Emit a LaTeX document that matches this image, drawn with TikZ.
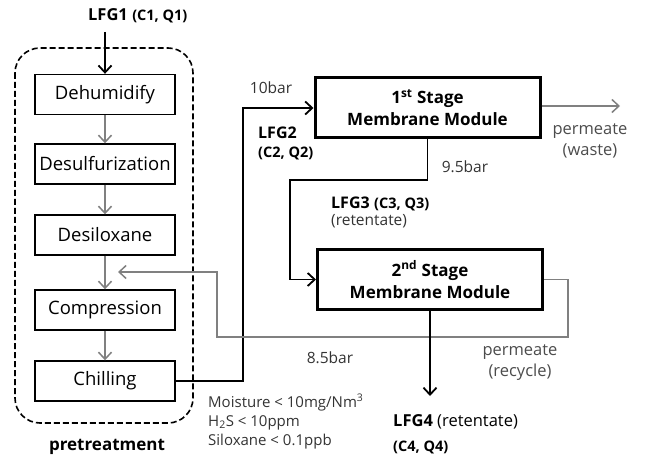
\documentclass[tikz,border=0pt]{standalone}
\usepackage{fontspec}
\setmainfont{Open Sans}
\usetikzlibrary{arrows.meta,positioning}

\tikzset{
  stepbox/.style={draw,line width=1.4pt,minimum width=140pt,minimum height=40pt,
    inner sep=0pt,font=\fontsize{18.5}{20}\selectfont},
  stagebox/.style={draw,line width=3pt,minimum width=225pt,minimum height=60pt,
    inner sep=0pt,align=center,font=\bfseries\fontsize{17}{22}\selectfont},
  grayflow/.style={draw=gray,line width=1.5pt,-{Straight Barb[length=7pt,width=13pt]}},
  blackflow/.style={draw=black,line width=1.8pt,-{Straight Barb[length=7pt,width=13pt]}},
  note/.style={inner sep=0pt,text=black!80,font=\fontsize{15.5}{19}\selectfont},
}

\begin{document}
\begin{tikzpicture}[x=1pt,y=-1pt]
	\useasboundingbox (0,0) rectangle (645,462);

	% pretreatment frame
	\draw[line width=1.6pt,dash pattern=on 6pt off 3pt,rounded corners=25pt](15,48) rectangle (193,423);
	\node[inner sep=0pt,font=\bfseries\fontsize{17}{19}\selectfont] (pre) at (107,447) {pretreatment};

	\node[stepbox] (dehum) at (105,94.5) {Dehumidify};
	\node[stepbox] (desulf) at (105,164) {Desulfurization};
	\node[stepbox] (desil) at (105,235) {Desiloxane};
	\node[stepbox] (comp) at (105,310) {Compression};
	\node[stepbox] (chill) at (105,381) {Chilling};

	\node[stagebox] (stage1) at (427.5,108) {1\textsuperscript{st} Stage\\Membrane Module};
	\node[stagebox] (stage2) at (430,279.5) {2\textsuperscript{nd} Stage\\Membrane Module};

	% feed
	\node[inner sep=0pt,font=\bfseries\fontsize{16.5}{19}\selectfont] (lfg1) at (108,15) {LFG1};
	\node[anchor=base west,inner sep=0pt,font=\bfseries\fontsize{14.5}{17}\selectfont] (lfg1cq) at ([xshift=4pt]lfg1.base east) {(C1, Q1)};
	\coordinate (feed) at (105,32);
	\draw[blackflow] (feed) -- (dehum.north);

	\draw[grayflow] (dehum) -- (desulf);
	\draw[grayflow] (desulf) -- (desil);
	\draw[grayflow] (desil) -- (comp);
	\draw[grayflow] (comp) -- (chill);

	% to 1st stage
	\draw[blackflow] (chill.east) -| (243,108) -- (stage1.west);
	\node[note] (p10) at (271,88) {10bar};
	\node[anchor=west,inner sep=0pt,font=\bfseries\fontsize{16}{19}\selectfont] (lfg2) at (258,133) {LFG2};
	\node[anchor=west,inner sep=0pt,font=\bfseries\fontsize{14.5}{17}\selectfont] (lfg2cq) at (258,153) {(C2, Q2)};

	% permeate waste
	\coordinate (waste) at (620,106);
	\draw[grayflow] (stage1.east |- waste) -- (waste);
	\node[note,align=center,text=black!70,font=\fontsize{16.5}{21}\selectfont] (perm1) at (590,141) {permeate\\(waste)};

	% retentate to 2nd stage
	\draw[blackflow] (stage1.south) |- (290,180) |- (stage2.west);
	\node[note] (p95) at (465,167) {9.5bar};
	\node[anchor=west,inner sep=0pt,font=\bfseries\fontsize{16}{19}\selectfont] (lfg3) at (331,203) {LFG3};
	\node[anchor=base west,inner sep=0pt,font=\bfseries\fontsize{14.5}{17}\selectfont] (lfg3cq) at ([xshift=4pt]lfg3.base east) {(C3, Q3)};
	\node[anchor=west,note] (ret3) at (331,221) {(retentate)};

	% recycle
	\coordinate (mix) at (118,272);
	\draw[grayflow] (stage2.east) -| (568,337) -| (217,272) -- (mix);
	\node[note,align=center,text=black!70,font=\fontsize{16.5}{21}\selectfont] (perm2) at (520,363) {permeate\\(recycle)};
	\node[note] (p85) at (330,358) {8.5bar};

	% product
	\coordinate (prod) at (stage2.south |- 0,396);
	\draw[blackflow] (stage2.south) -- (prod);
	\node[anchor=west,inner sep=0pt,font=\fontsize{16.5}{19}\selectfont] (lfg4) at (393,422) {\textbf{LFG4} (retentate)};
	\node[anchor=west,inner sep=0pt,font=\bfseries\fontsize{14.5}{17}\selectfont] (lfg4cq) at (393,447) {(C4, Q4)};

	\node[note,anchor=north west,align=left,font=\fontsize{15}{19}\selectfont] (spec) at (208,394)
	  {Moisture < 10mg/Nm\textsuperscript{3}\\H\textsubscript{2}S < 10ppm\\Siloxane < 0.1ppb};
\end{tikzpicture}
\end{document}
